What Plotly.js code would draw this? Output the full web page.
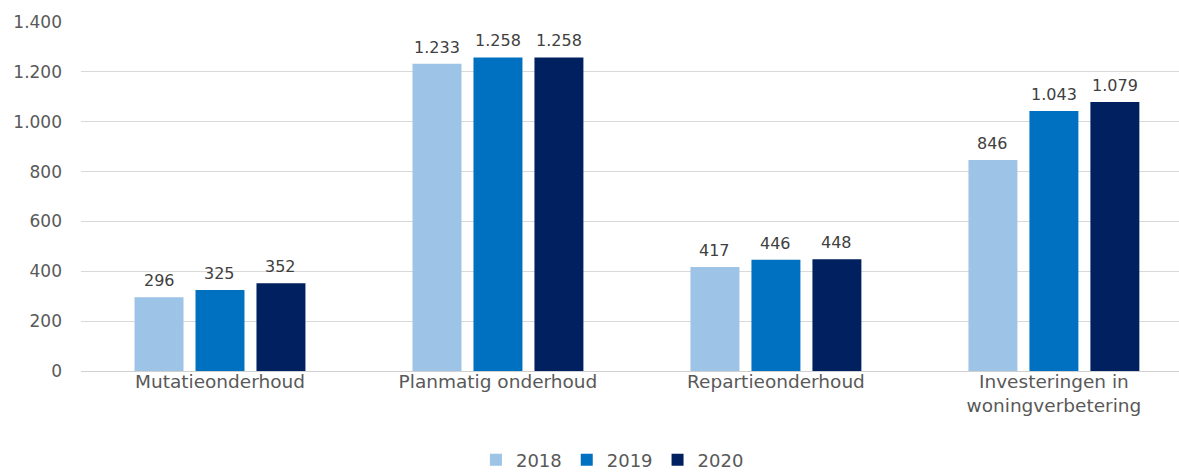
<!DOCTYPE html>
<html>
<head>
<meta charset="utf-8">
<script src="https://cdn.plot.ly/plotly-3.0.1.min.js"></script>
<style>html,body{margin:0;padding:0;background:#fff;}#chart{width:1179px;height:475px;}</style>
</head>
<body>
<div id="chart"></div>
<script>
const categories = ["Mutatieonderhoud", "Planmatig onderhoud", "Repartieonderhoud", "Investeringen in<br>woningverbetering"];
const seriesNames = ["2018", "2019", "2020"];
const values2018 = [296, 1233, 417, 846];
const values2019 = [325, 1258, 446, 1043];
const values2020 = [352, 1258, 448, 1079];
const yTicks = [0, 200, 400, 600, 800, 1000, 1200, 1400];

const colors = ["#9DC3E6", "#0070C0", "#002060"];
const seriesValues = [values2018, values2019, values2020];
const FONT = "DejaVu Sans, Verdana, sans-serif";
const bargap = 0.342;
const bargroupgap = 0.197;

const traces = seriesNames.map((name, i) => ({
  type: "bar",
  name: name,
  x: categories,
  y: seriesValues[i],
  marker: {color: colors[i]},
  hoverinfo: "skip"
}));

// data labels placed via the axis scales, centred over each grouped bar
const slot = (1 - bargap) / seriesNames.length;
const fmt = v => v.toString().replace(/\B(?=(\d{3})+(?!\d))/g, ".");
const annotations = [];
seriesValues.forEach((vals, i) => {
  vals.forEach((v, c) => {
    annotations.push({
      xref: "x", yref: "y",
      x: c + (i - (seriesNames.length - 1) / 2) * slot,
      y: v,
      text: fmt(v),
      showarrow: false,
      xanchor: "center", yanchor: "bottom",
      yshift: 5,
      font: {family: FONT, size: 16, color: "#404040"}
    });
  });
});

const layout = {
  width: 1179,
  height: 475,
  margin: {l: 81, r: 0, t: 22, b: 104, autoexpand: false},
  paper_bgcolor: "#ffffff",
  plot_bgcolor: "#ffffff",
  separators: ",.",
  font: {family: FONT, size: 17, color: "#595959"},
  barmode: "group",
  bargap: bargap,
  bargroupgap: bargroupgap,
  showlegend: true,
  annotations: annotations,
  legend: {
    orientation: "h",
    x: 0.484, xanchor: "center",
    y: -0.255, yanchor: "middle",
    font: {size: 18, color: "#595959"},
    itemwidth: 30,
    traceorder: "normal"
  },
  xaxis: {
    type: "category",
    range: [-0.5, 3.45],
    showgrid: false,
    showline: false,
    zeroline: false,
    ticks: "",
    ticklabelstandoff: -3,
    automargin: false,
    tickfont: {size: 18.5, color: "#595959"},
    fixedrange: true
  },
  yaxis: {
    range: [0, 1400],
    tickvals: yTicks,
    tickformat: ",d",
    showgrid: true,
    gridcolor: "#d9d9d9",
    gridwidth: 1,
    zeroline: true,
    zerolinecolor: "#d0d0d0",
    zerolinewidth: 1,
    showline: false,
    ticks: "",
    automargin: false,
    ticklabelstandoff: 18,
    tickfont: {size: 17, color: "#595959"},
    fixedrange: true
  }
};

Plotly.newPlot("chart", traces, layout, {displayModeBar: false, staticPlot: true});
</script>
</body>
</html>
